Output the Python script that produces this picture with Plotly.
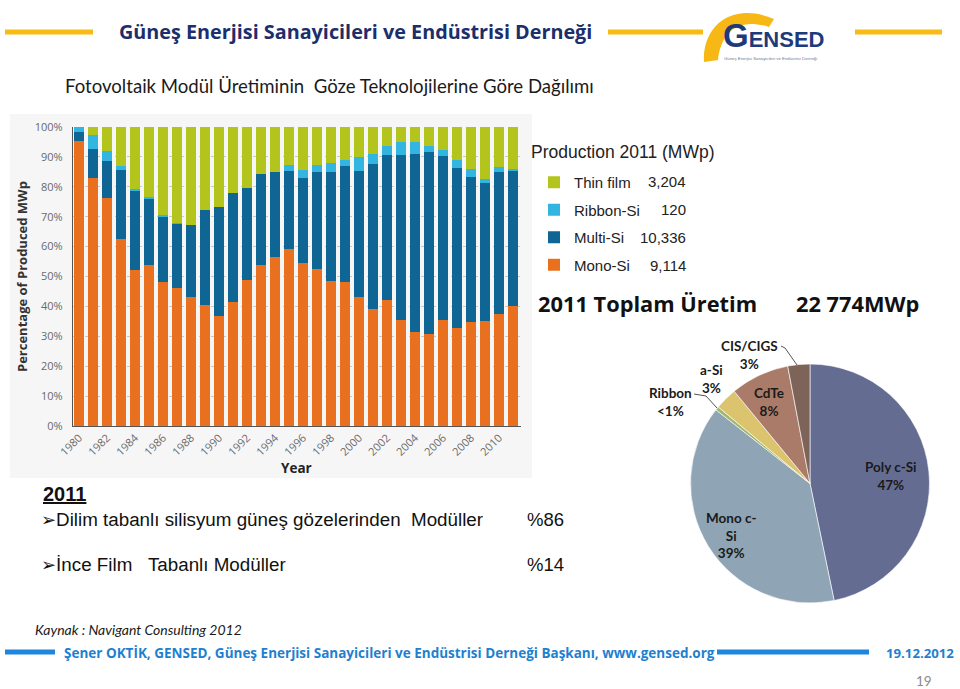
import plotly.graph_objects as go

# ---------------- data ----------------
years = list(range(1980, 2012))
mono_si = [95.2, 83.1, 76.1, 62.7, 52.2, 54.0, 48.2, 46.2, 43.1, 40.4, 36.7, 41.5, 48.7, 54.0, 56.4, 59.2,
           54.6, 52.6, 48.4, 48.2, 43.0, 39.2, 42.0, 35.5, 31.3, 30.7, 35.3, 32.9, 34.8, 35.2, 37.3, 40.0]
multi_si = [3.0, 9.6, 12.4, 23.0, 26.5, 22.2, 21.7, 21.4, 24.2, 31.7, 36.5, 36.5, 31.0, 30.2, 28.5, 26.2,
            28.4, 32.4, 36.4, 38.6, 42.4, 48.4, 48.7, 55.2, 59.7, 60.8, 55.1, 53.3, 48.5, 46.1, 47.7, 45.4]
ribbon_si = [1.8, 4.7, 3.4, 1.1, 0.5, 0.4, 0.6, 0.3, 0.0, 0.0, 0.0, 0.0, 0.0, 0.0, 0.0, 2.0,
             2.7, 2.3, 3.1, 2.0, 4.6, 3.4, 2.8, 4.4, 4.0, 2.3, 1.8, 2.6, 2.6, 1.3, 1.6, 0.5]
thin_film = [0.0, 2.6, 8.1, 13.2, 20.8, 23.4, 29.5, 32.1, 32.7, 27.9, 26.8, 22.0, 20.3, 15.8, 15.1, 12.6,
             14.3, 12.7, 12.1, 11.2, 10.0, 9.0, 6.5, 4.9, 5.0, 6.2, 7.8, 11.2, 14.1, 17.4, 13.4, 14.1]

series_names = ["Mono-Si", "Multi-Si", "Ribbon-Si", "Thin film"]
series_values = [mono_si, multi_si, ribbon_si, thin_film]
series_colors = ["#e8701e", "#0f6594", "#33b5e2", "#b3c41d"]
legend_ranks = [4, 3, 2, 1]
production_2011 = {"Thin film": "3,204", "Ribbon-Si": "120", "Multi-Si": "10,336", "Mono-Si": "9,114"}

y_ticks = [0, 10, 20, 30, 40, 50, 60, 70, 80, 90, 100]
y_tick_labels = [f"{v}%" for v in y_ticks]
x_ticks = list(range(1980, 2011, 2))

pie_labels = ["Poly c-Si", "Mono c-Si", "Ribbon", "a-Si", "CdTe", "CIS/CIGS"]
pie_values = [47, 39, 0.5, 3, 8, 3]
pie_texts = ["Poly c-Si<br>47%", "Mono c-<br>Si<br>39%", "Ribbon<br><1%", "a-Si<br>3%", "CdTe<br>8%", "CIS/CIGS<br>3%"]
pie_colors = ["#656c92", "#8fa4b4", "#a2b86c", "#dcc46e", "#aa7b68", "#7e6458"]

W, H = 960, 689


def px(x):
    return x / W


def py(y):
    return 1 - y / H


fig = go.Figure()

for name, vals, col, rk in zip(series_names, series_values, series_colors, legend_ranks):
    fig.add_trace(go.Bar(x=years, y=vals, name=name, marker=dict(color=col, line=dict(width=0)),
                         legendgroup=name, legendrank=rk))

fig.add_trace(go.Pie(labels=pie_labels, values=pie_values, sort=False, direction="clockwise",
                     rotation=0, textinfo="none", showlegend=False, hoverinfo="label+percent",
                     marker=dict(colors=pie_colors, line=dict(color="#ffffff", width=0.6)),
                     domain=dict(x=[px(690), px(930)], y=[py(603), py(364)])))

CAL = "Lato, 'Open Sans', sans-serif"
CALB = "'Open Sans', Lato, sans-serif"
ARIAL = "'Liberation Sans', Arial, 'DejaVu Sans', sans-serif"
CHART = "'Open Sans', 'Noto Sans', sans-serif"

fig.update_layout(
    width=W, height=H, margin=dict(l=0, r=0, t=0, b=0, pad=0, autoexpand=False),
    paper_bgcolor="white", plot_bgcolor="rgba(0,0,0,0)",
    barmode="stack", bargap=0.3,
    xaxis=dict(domain=[px(73), px(521)], range=[1979.57, 2011.57], tickmode="array", tickvals=x_ticks,
               ticktext=[str(v) for v in x_ticks], tickangle=-45, showgrid=False, showline=True,
               linecolor="#555555", linewidth=1.2, ticks="", zeroline=False, automargin=False,
               tickfont=dict(family=CHART, size=11, color="#6a6a6a")),
    yaxis=dict(domain=[py(426), py(127)], range=[0, 100], tickmode="array", tickvals=y_ticks,
               ticktext=y_tick_labels, showgrid=True, gridcolor="#c9c9c9", griddash="dot", gridwidth=1,
               showline=True, linecolor="#555555", linewidth=1.2, zeroline=False, ticks="", automargin=False,
               ticklabelstandoff=7, tickfont=dict(family=CHART, size=11, color="#6a6a6a")),
    legend=dict(x=px(534), y=py(166), xanchor="left", yanchor="top", traceorder="grouped",
                tracegroupgap=5, font=dict(family=ARIAL, size=15, color="#222222"),
                bgcolor="rgba(0,0,0,0)", itemclick=False, itemdoubleclick=False),
    showlegend=True,
)

shapes = []
# chart image background
shapes.append(dict(type="rect", xref="paper", yref="paper", x0=px(10), x1=px(532), y0=py(478), y1=py(114),
                   fillcolor="#f6f6f6", line=dict(width=0), layer="below"))
# header yellow lines
for x0, x1 in [(5, 93), (608, 703), (855, 942)]:
    shapes.append(dict(type="line", xref="paper", yref="paper", x0=px(x0), x1=px(x1), y0=py(32), y1=py(32),
                       line=dict(color="#f7bb13", width=5)))
# logo arc (crescent)
pts = "M{},{} C{},{} {},{} {},{} L{},{} C{},{} {},{} {},{} Z".format(
    px(704), py(62), px(702), py(26), px(732), py(1), px(774), py(19),
    px(769), py(27), px(738), py(17), px(721), py(32), px(718), py(60))
shapes.append(dict(type="path", xref="paper", yref="paper", path=pts, fillcolor="#f7b815",
                   line=dict(width=0), layer="below"))
# footer blue lines
for x0, x1 in [(5, 55), (717, 869)]:
    shapes.append(dict(type="line", xref="paper", yref="paper", x0=px(x0), x1=px(x1), y0=py(652), y1=py(652),
                       line=dict(color="#1e86dc", width=5)))
# pie leader lines
for (x0, y0), (x1, y1), (x2, y2) in [((694, 394), (706, 396), (717, 408)), ((781, 346), (785, 348), (797, 365))]:
    shapes.append(dict(type="path", xref="paper", yref="paper",
                       path=f"M{px(x0)},{py(y0)} L{px(x1)},{py(y1)} L{px(x2)},{py(y2)}",
                       line=dict(color="#555555", width=1)))
fig.update_layout(shapes=shapes)

ann = []


def text(x, y, t, size, color="#111111", family=CAL, xanchor="left", yanchor="middle", align="left", angle=0):
    ann.append(dict(x=px(x), y=py(y), xref="paper", yref="paper", text=t, showarrow=False,
                    font=dict(family=family, size=size, color=color), xanchor=xanchor, yanchor=yanchor,
                    align=align, textangle=angle))


# header
text(117, 31, "<b>Güneş Enerjisi Sanayicileri ve Endüstrisi Derneği</b>", 19.8, "#1c2e6b", family=CALB)
text(63, 86, "Fotovoltaik Modül Üretiminin \u00a0Göze Teknolojilerine Göre Dağılımı", 18.6, "#1a1a1a")
# logo text
text(721, 36, "<b><span style='font-size:33px'>G</span>ENSED</b>", 22, "#1d3b7c",
     family="'Liberation Sans', Arial, sans-serif", yanchor="middle")
text(722, 58, "Güneş Enerjisi Sanayicileri ve Endüstrisi Derneği", 4.3, "#6a7a9a", family=ARIAL)

# bar chart titles
text(22, 277, "<b>Percentage of Produced MWp</b>", 13, "#333333", family=CHART, xanchor="center", angle=-90)
text(296, 468, "<b>Year</b>", 13.5, "#222222", family=CHART, xanchor="center")

# legend title & values
text(529, 152, "Production 2011 (MWp)", 17.5, "#222222", family=ARIAL)
for i, nm in enumerate(["Thin film", "Ribbon-Si", "Multi-Si", "Mono-Si"]):
    text(688, [182, 209, 237, 265][i], production_2011[nm], 15, "#222222", family=ARIAL, xanchor="right")

# total
text(536, 303, "<b>2011 Toplam Üretim</b>", 21.8, "#111111", family=CALB)
text(921, 303, "<b>22 774MWp</b>", 21.8, "#111111", family=CALB, xanchor="right")

# pie labels
pie_pos = [(891, 476), (731, 535), (670, 402), (711, 379), (769, 402), (749, 355)]
for (x, y), t in zip(pie_pos, pie_texts):
    text(x, y, f"<b>{t}</b>", 13.5, "#1a1a1a", xanchor="center", align="center")

# left text block
text(41, 494, "<b><u>2011</u></b>", 20, "#111111", family=ARIAL)
text(39, 519, "<span style='font-size:18px'>\u27a2</span>Dilim tabanlı silisyum güneş gözelerinden \u00a0Modüller", 18.8,
     "#111111", family="'Liberation Sans', Arial, 'DejaVu Sans', sans-serif")
text(525, 519, "%86", 18.5, "#111111", family=ARIAL)
text(39, 564, "<span style='font-size:18px'>\u27a2</span>İnce Film \u00a0\u00a0Tabanlı Modüller", 18.8, "#111111",
     family="'Liberation Sans', Arial, 'DejaVu Sans', sans-serif")
text(525, 564, "%14", 18.5, "#111111", family=ARIAL)

# footer
text(33, 629, "<i>Kaynak : Navigant Consulting 2012</i>", 14, "#1a1a1a")
text(62, 653, "<b>Şener OKTİK, GENSED, Güneş Enerjisi Sanayicileri ve Endüstrisi Derneği Başkanı, www.gensed.org</b>",
     13.5, "#1f7fcf", family=CALB)
text(956, 653, "<b>19.12.2012</b>", 13.2, "#1f7fcf", family=CALB, xanchor="right")
text(934, 681, "19", 13.5, "#8a8a8a", xanchor="right")

fig.update_layout(annotations=ann)

fig.write_html("out.html", config={"displayModeBar": False},
               post_script="document.body.style.margin='0px';")
